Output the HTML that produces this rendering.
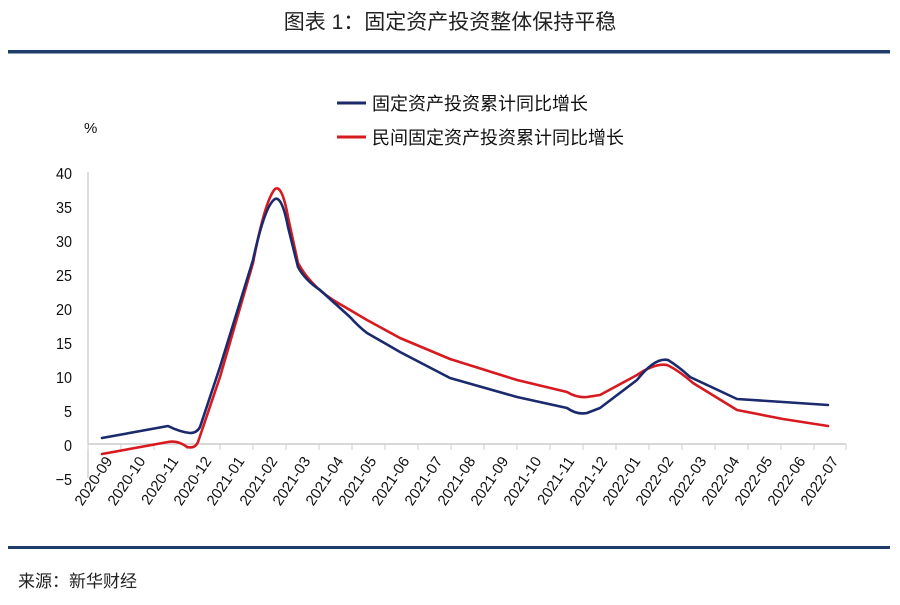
<!DOCTYPE html><html><head><meta charset="utf-8"><style>
body{margin:0;width:900px;height:600px;background:#fff;overflow:hidden;font-family:"Liberation Sans","Noto Sans CJK SC",sans-serif}
</style></head><body>
<svg width="900" height="600" xmlns="http://www.w3.org/2000/svg" font-family="Liberation Sans, Noto Sans CJK SC, sans-serif">
<text x="450" y="29" text-anchor="middle" font-size="21" fill="#222">图表 1：固定资产投资整体保持平稳</text>
<rect x="8" y="50" width="882" height="3.5" fill="#1f3d6b"/>
<rect x="8" y="546" width="882" height="3" fill="#1f3d6b"/>
<text x="18" y="587" font-size="17" fill="#222">来源：新华财经</text>
<line x1="337" y1="103" x2="366" y2="103" stroke="#1a2a6c" stroke-width="3"/>
<text x="372" y="110" font-size="18" fill="#111">固定资产投资累计同比增长</text>
<line x1="337" y1="137" x2="366" y2="137" stroke="#d71920" stroke-width="3"/>
<text x="372" y="144" font-size="18" fill="#111">民间固定资产投资累计同比增长</text>
<text x="84" y="133" font-size="15" fill="#111">%</text>
<line x1="88" y1="172" x2="88" y2="478" stroke="#bbb" stroke-width="1"/>
<line x1="88" y1="444" x2="846" y2="444" stroke="#ccc" stroke-width="1.5"/>
<g font-size="16" fill="#111" text-anchor="end" transform="scale(0.9,1)">
<text x="80" y="179">40</text><text x="80" y="213">35</text><text x="80" y="247">30</text><text x="80" y="281">25</text><text x="80" y="315">20</text><text x="80" y="349">15</text><text x="80" y="383">10</text><text x="80" y="417">5</text><text x="80" y="451">0</text><text x="80" y="485">−5</text>
</g>
<g stroke="#ccc" stroke-width="1">
<line x1="88" y1="444" x2="88" y2="450"/><line x1="121" y1="444" x2="121" y2="450"/><line x1="154" y1="444" x2="154" y2="450"/><line x1="187" y1="444" x2="187" y2="450"/><line x1="220" y1="444" x2="220" y2="450"/><line x1="253" y1="444" x2="253" y2="450"/><line x1="286" y1="444" x2="286" y2="450"/><line x1="319" y1="444" x2="319" y2="450"/><line x1="352" y1="444" x2="352" y2="450"/><line x1="385" y1="444" x2="385" y2="450"/><line x1="418" y1="444" x2="418" y2="450"/><line x1="451" y1="444" x2="451" y2="450"/><line x1="484" y1="444" x2="484" y2="450"/><line x1="517" y1="444" x2="517" y2="450"/><line x1="550" y1="444" x2="550" y2="450"/><line x1="583" y1="444" x2="583" y2="450"/><line x1="616" y1="444" x2="616" y2="450"/><line x1="649" y1="444" x2="649" y2="450"/><line x1="682" y1="444" x2="682" y2="450"/><line x1="715" y1="444" x2="715" y2="450"/><line x1="748" y1="444" x2="748" y2="450"/><line x1="781" y1="444" x2="781" y2="450"/><line x1="814" y1="444" x2="814" y2="450"/><line x1="846" y1="444" x2="846" y2="450"/>
</g>
<g font-size="15" fill="#111" text-anchor="end">
<text transform="translate(113,461) rotate(-56)">2020-09</text>
<text transform="translate(146,461) rotate(-56)">2020-10</text>
<text transform="translate(179,461) rotate(-56)">2020-11</text>
<text transform="translate(212,461) rotate(-56)">2020-12</text>
<text transform="translate(245,461) rotate(-56)">2021-01</text>
<text transform="translate(278,461) rotate(-56)">2021-02</text>
<text transform="translate(311,461) rotate(-56)">2021-03</text>
<text transform="translate(344,461) rotate(-56)">2021-04</text>
<text transform="translate(377,461) rotate(-56)">2021-05</text>
<text transform="translate(410,461) rotate(-56)">2021-06</text>
<text transform="translate(443,461) rotate(-56)">2021-07</text>
<text transform="translate(476,461) rotate(-56)">2021-08</text>
<text transform="translate(509,461) rotate(-56)">2021-09</text>
<text transform="translate(542,461) rotate(-56)">2021-10</text>
<text transform="translate(575,461) rotate(-56)">2021-11</text>
<text transform="translate(608,461) rotate(-56)">2021-12</text>
<text transform="translate(641,461) rotate(-56)">2022-01</text>
<text transform="translate(674,461) rotate(-56)">2022-02</text>
<text transform="translate(707,461) rotate(-56)">2022-03</text>
<text transform="translate(740,461) rotate(-56)">2022-04</text>
<text transform="translate(773,461) rotate(-56)">2022-05</text>
<text transform="translate(806,461) rotate(-56)">2022-06</text>
<text transform="translate(839,461) rotate(-56)">2022-07</text>
</g>
<path fill="none" stroke="#d71920" stroke-width="2.6" stroke-linejoin="round" stroke-linecap="round"
d="M102,454 L168,442 Q178,440 187,447 Q195,449 198,442 L220,377 L253,263 Q265,200 275,189 Q282,184 288,217 L298,263 Q310,285 333,300 L367,320 L400,338 L450,359 L517,380 L567,392 Q577,398 587,397 L600,395 L637,375 Q655,363 667,365 Q678,370 693,383 L737,410 L783,419 L828,426"/>
<path fill="none" stroke="#1a2a6c" stroke-width="2.6" stroke-linejoin="round" stroke-linecap="round"
d="M102,438 L168,426 Q180,432 190,433 Q197,433 200,427 L220,367 L253,260 Q265,205 275,199 Q282,196 288,227 L298,267 Q305,280 320,290 L350,317 Q358,326 367,333 L400,352 L450,378 L517,397 L567,408 Q577,415 587,413 L600,408 L637,380 Q655,357 668,360 Q678,366 690,377 L737,399 L783,402 L828,405"/>
</svg>
</body></html>
